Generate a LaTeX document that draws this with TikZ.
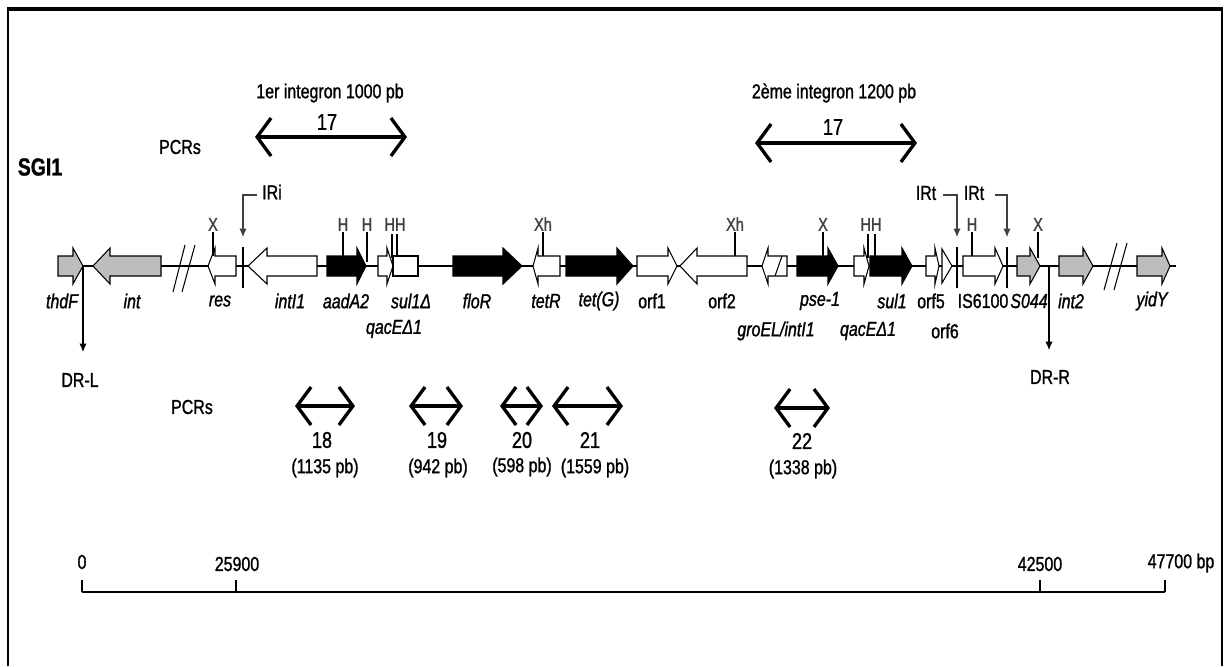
\documentclass[tikz,border=0pt]{standalone}
\usepackage{fontspec}
\setmainfont{Liberation Sans}[FakeStretch=0.79, FakeBold=1.2]
\usetikzlibrary{arrows.meta,positioning}
\definecolor{genegray}{gray}{0.74}
\tikzstyle{gene}=[draw=black, line width=0.6pt]
\tikzstyle{pcr}=[line width=1.9pt,
        {Straight Barb[length=0.28cm,width=0.76cm]}-{Straight Barb[length=0.28cm,width=0.76cm]}]
\tikzstyle{site}=[font=\fontsize{10.5}{12}\selectfont, text=black!75, inner sep=0.5pt]
\tikzstyle{lab}=[font=\fontsize{11.5}{13}\selectfont, inner sep=1pt]
\tikzstyle{num}=[font=\fontsize{13}{15}\selectfont, inner sep=1pt]
\tikzstyle{glab}=[font=\fontsize{11.5}{13}\selectfont\itshape, inner sep=1pt]
\tikzstyle{ir}=[line width=1.6pt]
\tikzstyle{dr}=[line width=0.6pt, -{Latex[length=0.17cm,width=0.15cm]}]
\newcommand{\gright}[4]{\draw[gene, fill=#1] (#2,256) -- (#3,256) -- (#3,248)
        -- (#4,266) -- (#3,284) -- (#3,276) -- (#2,276) -- cycle;}
\newcommand{\gleft}[4]{\draw[gene, fill=#1] (#4,256) -- (#3,256) -- (#3,248)
        -- (#2,266) -- (#3,284) -- (#3,276) -- (#4,276) -- cycle;}

\begin{document}
\begin{tikzpicture}[x=0.02cm, y=-0.02cm]
        \useasboundingbox (0,0) rectangle (1226,666);
        \draw[line width=1.2pt] (8,666) -- (8,9) (1222,9) -- (1222,666);
        \draw[line width=1.9pt] (7,9) -- (1223,9);

        \node[font=\fontsize{14}{16}\selectfont\bfseries] (sgi) at (40,167) {SGI1};
        \node[lab] (pcrtop) at (180,147) {PCRs};
        \node[lab] (pcrbot) at (192,407) {PCRs};

        % integrons
        \node[lab] (int1) at (330,93) {1er integron 1000 pb};
        \node[num] (n17a) at (327,122) {17};
        \draw[pcr] (255,137) -- (407,137);
        \node[lab] (int2t) at (834,93) {2ème integron 1200 pb};
        \node[num] (n17b) at (833,127) {17};
        \draw[pcr] (755,143) -- (917,143);

        % backbone
        \draw[line width=0.6pt] (58,266) -- (1176,266);
        \draw[line width=0.6pt] (173,292) -- (185,245) (182,292) -- (195,245);
        \draw[line width=0.6pt] (1104,290) -- (1117,243) (1114,290) -- (1127,243);

        \gright{genegray}{58}{73}{83}
        \gleft{genegray}{93}{110}{161}
        \gleft{white}{208}{215}{236}
        \gleft{white}{248}{267}{317}
        \gright{black}{327}{357}{366}
        \gright{white}{378}{387}{393}
        \draw[gene, fill=white] (393,256) rectangle (418,276);
        \gright{black}{453}{503}{522}
        \gleft{white}{533}{538}{560}
        \gright{black}{566}{617}{633}
        \gright{white}{637}{668}{677}
        \gleft{white}{680}{697}{747}
        \gleft{white}{762}{768}{787}
        \draw[gene] (775,276) -- (782,256);
        \gright{black}{797}{828}{838}
        \gright{white}{854}{864}{869}
        \gright{black}{870}{902}{912}
        \gright{white}{926}{935}{939}
        \draw[gene, fill=white] (942,249) -- (952,266) -- (942,283) -- cycle;
        \gright{white}{963}{995}{1003}
        \gright{genegray}{1017}{1030}{1040}
        \gright{genegray}{1059}{1083}{1093}
        \gright{genegray}{1137}{1162}{1170}

        % restriction sites
        \node[site, anchor=south] (sX1) at (213,232) {X};
        \draw[gene] (sX1.south) -- (213,256);
        \node[site, anchor=south] (sH1) at (343,232) {H};
        \draw[gene] (sH1.south) -- (343,256);
        \node[site, anchor=south] (sH2) at (367,232) {H};
        \draw[gene] (sH2.south) -- (367,262);
        \node[site, anchor=south] (sHH1) at (395,232) {HH};
        \draw[gene] (392,234) -- (392,258) (397,234) -- (397,256);
        \node[site, anchor=south] (sXh1) at (543,232) {Xh};
        \draw[gene] (sXh1.south) -- (543,256);
        \node[site, anchor=south] (sXh2) at (735,232) {Xh};
        \draw[gene] (sXh2.south) -- (735,256);
        \node[site, anchor=south] (sX2) at (823,232) {X};
        \draw[gene] (sX2.south) -- (823,256);
        \node[site, anchor=south] (sHH2) at (871,232) {HH};
        \draw[gene] (868,234) -- (868,258) (875,234) -- (875,256);
        \node[site, anchor=south] (sH3) at (972,232) {H};
        \draw[gene] (sH3.south) -- (972,256);
        \node[site, anchor=south] (sX3) at (1038,232) {X};
        \draw[gene] (sX3.south) -- (1038,258);

        % IR
        \draw[ir] (243,247) -- (243,288);
        \draw[ir] (957,247) -- (957,288);
        \draw[ir] (1007,247) -- (1007,288);
        \node[lab] (IRi) at (272,192) {IRi};
        \node[lab] (IRt1) at (926,193) {IRt};
        \node[lab] (IRt2) at (974,193) {IRt};
        \draw[dr, black!75] (257,195) -- (243,195) -- (243,237);
        \draw[dr, black!75] (943,195) -- (957,195) -- (957,237);
        \draw[dr, black!75] (995,195) -- (1007,195) -- (1007,237);

        % gene names
        \node[glab] (thdF) at (62,301) {thdF};
        \node[glab] (int) at (132,301) {int};
        \node[glab] (res) at (220,301) {res};
        \node[glab] (intI1) at (290,301) {intI1};
        \node[glab] (aadA2) at (346,301) {aadA2};
        \node[glab] (sul1D) at (411,301) {sul1Δ};
        \node[glab] (qacE1) at (394,329) {qacEΔ1};
        \node[glab] (floR) at (477,301) {floR};
        \node[glab] (tetR) at (546,301) {tetR};
        \node[glab] (tetG) at (599,301) {tet(G)};
        \node[lab] (orf1) at (652,301) {orf1};
        \node[lab] (orf2) at (722,301) {orf2};
        \node[glab] (groEL) at (776,331) {groEL/intI1};
        \node[glab] (pse1) at (820,301) {pse-1};
        \node[glab] (qacE2) at (868,331) {qacEΔ1};
        \node[glab] (sul1) at (892,301) {sul1};
        \node[lab] (orf5) at (931,301) {orf5};
        \node[lab] (orf6) at (945,331) {orf6};
        \node[lab] (IS) at (983,301) {IS6100};
        \node[glab] (S044) at (1029,301) {S044};
        \node[glab] (int2) at (1071,301) {int2};
        \node[glab] (yidY) at (1152,301) {yidY};

        % direct repeats
        \node[lab] (DRL) at (80,380) {DR-L};
        \node[lab] (DRR) at (1050,377) {DR-R};
        \draw[dr] (83,266) -- (83,352);
        \draw[dr] (1049,266) -- (1049,350);

        % PCRs below
        \draw[pcr] (295,406) -- (355,406);
        \node[num] (n18) at (322,440) {18};
        \node[lab] (s18) at (325,468) {(1135 pb)};
        \draw[pcr] (409,406) -- (463,406);
        \node[num] (n19) at (437,440) {19};
        \node[lab] (s19) at (438,468) {(942 pb)};
        \draw[pcr] (500,406) -- (543,406);
        \node[num] (n20) at (522,440) {20};
        \node[lab] (s20) at (522,467) {(598 pb)};
        \draw[pcr] (552,406) -- (623,406);
        \node[num] (n21) at (590,440) {21};
        \node[lab] (s21) at (595,468) {(1559 pb)};
        \draw[pcr] (774,408) -- (830,408);
        \node[num] (n22) at (802,441) {22};
        \node[lab] (s22) at (803,469) {(1338 pb)};

        % scale
        \draw[line width=1.1pt] (82,592) -- (1165,592);
        \draw[line width=0.6pt] (82,580) -- (82,592) (236,580) -- (236,592)
            (1040,580) -- (1040,592) (1165,580) -- (1165,592);
        \node[lab] (s0) at (82,562) {0};
        \node[lab] (s1) at (237,564) {25900};
        \node[lab] (s2) at (1040,564) {42500};
        \node[lab] (s3) at (1181,563) {47700 bp};

    \end{tikzpicture}
\end{document}
